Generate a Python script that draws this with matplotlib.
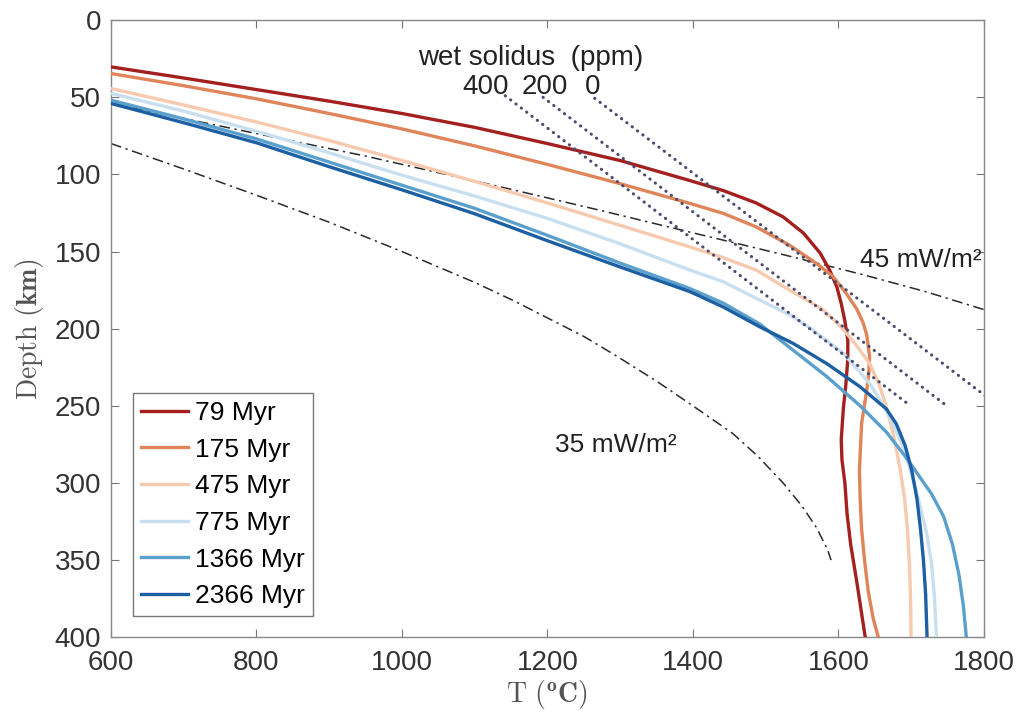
import numpy as np
import matplotlib
matplotlib.use("Agg")
import matplotlib.pyplot as plt

plt.rcParams['font.family'] = ['Liberation Sans', 'DejaVu Sans']
plt.rcParams['mathtext.fontset'] = 'cm'

# geotherms: temperature (C) and depth (km)
labels = ['79 Myr', '175 Myr', '475 Myr', '775 Myr', '1366 Myr', '2366 Myr']
colors = ['#a3201f', '#e0845a', '#f7c9ae', '#c8dff0', '#5aa0cc', '#1d5fa3']

t79 = [600, 700, 800, 900, 1000, 1100, 1200, 1300, 1396, 1442, 1487, 1524,
       1552, 1575, 1588, 1598, 1604, 1609, 1613, 1613, 1610, 1607, 1604, 1605,
       1609, 1612, 1617, 1625, 1637]
d79 = [30.3, 37.5, 45, 52.5, 60.5, 69.5, 80, 91, 104, 110.5, 118.5, 127.5,
       138, 151, 162, 173, 183.7, 195, 207.5, 220, 238, 251, 272, 285,
       300, 320, 340, 363, 400]

t175 = [600, 700, 800, 900, 1000, 1100, 1200, 1300, 1396, 1442, 1487, 1533,
        1570, 1593, 1611, 1625, 1634, 1639, 1643, 1642, 1639, 1632, 1629, 1630,
        1632, 1636, 1641, 1648, 1655]
d175 = [34.6, 42.5, 51, 60.5, 70.5, 81.5, 93.5, 106, 118.8, 125.3, 134, 145.9,
        157.7, 166.4, 177.2, 187, 196, 204, 218, 228, 240, 261.5, 292, 310,
        330, 350, 370, 388, 400]

t475 = [600, 700, 800, 900, 1000, 1100, 1200, 1300, 1396, 1442, 1487, 1533,
        1577, 1600, 1622, 1643, 1656, 1666, 1674, 1680, 1686, 1691, 1695, 1698,
        1699.5, 1700]
d475 = [44.3, 55, 66, 78, 91, 104.5, 118.5, 133, 147, 154, 162, 175,
        187, 197, 209, 222.6, 236, 250.7, 265, 278.8, 294, 310, 330, 355,
        380, 400]

t775 = [600, 700, 800, 900, 1000, 1100, 1200, 1300, 1396, 1442, 1490, 1533,
        1561, 1607, 1643, 1671, 1689, 1698, 1707, 1715, 1722, 1728, 1732, 1735]
d775 = [47.5, 59, 72, 86, 100.5, 114, 128.5, 145, 162, 169.6, 181, 191,
        199.5, 216, 235.5, 257, 276.6, 290, 305, 320, 334, 352, 373, 400]

t1366 = [600, 700, 800, 900, 1000, 1100, 1200, 1300, 1396, 1442, 1492, 1538,
         1584, 1630, 1666, 1694, 1728, 1745, 1757, 1766, 1772, 1776]
d1366 = [51.9, 64, 77, 92, 107, 122, 139.5, 157.5, 174, 183.5, 197, 214,
         231, 250, 267, 284, 307, 322, 340, 360, 380, 400]

t2366 = [600, 700, 800, 900, 1000, 1100, 1200, 1300, 1396, 1442, 1492, 1538,
         1584, 1630, 1666, 1680, 1692, 1701, 1708, 1713, 1717, 1720, 1722]
d2366 = [54, 66.5, 79.5, 95, 110, 125.5, 143, 160, 176, 186, 198.8, 209.6,
         222.6, 237.7, 252, 262, 276, 292, 310, 330, 350, 372, 400]

temps = [t79, t175, t475, t775, t1366, t2366]
depths = [d79, d175, d475, d775, d1366, d2366]

# reference conductive geotherms
t45 = [600, 800, 949, 1135, 1270, 1410, 1520, 1634, 1720, 1800]
d45 = [54, 73.5, 88, 108, 123, 139, 151.5, 165, 176, 187.6]
t35 = [600, 700, 800, 900, 1000, 1100, 1152, 1200, 1250, 1296, 1350, 1400,
       1455, 1490, 1524, 1550, 1570, 1585, 1590]
d35 = [80, 96.5, 113.5, 131, 150, 170, 181.5, 193, 205, 218, 234, 250,
       268, 283, 300, 315, 329, 343, 350]

# wet solidus lines (ppm water)
sol_ppm = ['400', '200', '0']
sol_t = [[1142, 1698], [1194, 1749], [1265, 1820]]
sol_d = [[49, 249.6], [50, 250], [50.6, 250]]
sol_label_t = [1115, 1197, 1262]

fig = plt.figure(figsize=(10.28, 7.2), dpi=100)
ax = fig.add_subplot(111)
fig.subplots_adjust(left=0.108, right=0.957, top=0.972, bottom=0.115)

for t, d, c, lab in zip(temps, depths, colors, labels):
    ax.plot(t, d, color=c, lw=2.4, label=lab, zorder=3,
            solid_joinstyle='round')

ax.plot(t45, d45, color='#2a2a2a', lw=1.1, ls=(0, (7, 3, 1.5, 3)), zorder=2)
ax.plot(t35, d35, color='#2a2a2a', lw=1.1, ls=(0, (7, 3, 1.5, 3)), zorder=2)

for t, d in zip(sol_t, sol_d):
    ax.plot(t, d, color='#4b4b6e', lw=2.2, ls=(0, (0.1, 2.1)),
            dash_capstyle='round', zorder=4)

tc = '#222222'
ax.text(1177, 29, 'wet solidus  (ppm)', fontsize=20, color=tc, ha='center')
for s, tx in zip(sol_ppm, sol_label_t):
    ax.text(tx, 48, s, fontsize=20, color=tc, ha='center')
ax.text(1630, 160, '45 mW/m²', fontsize=19, color=tc)
ax.text(1210, 280, '35 mW/m²', fontsize=19, color=tc)

ax.set_xlim(600, 1800)
ax.set_ylim(400, 0)
ax.set_xticks(np.arange(600, 1801, 200))
ax.set_yticks(np.arange(0, 401, 50))

ax.tick_params(direction='in', top=True, right=True, length=6, width=0.8,
               color='#777777', labelsize=20, labelcolor='#333333')
ax.tick_params(axis='x', pad=9)
ax.tick_params(axis='y', pad=7)
for sp in ax.spines.values():
    sp.set_color('#888888')
    sp.set_linewidth(1)

ax.set_xlabel(r'$\mathrm{T\ (}^{\mathbf{o}}\mathbf{C}\mathrm{)}$', fontsize=20,
              color='#555555', labelpad=2)
ax.set_ylabel(r'$\mathrm{Depth\ (}\mathbf{km}\mathrm{)}$', fontsize=20,
              color='#555555', labelpad=6)

leg = ax.legend(loc='lower left', bbox_to_anchor=(0.025, 0.034),
                borderaxespad=0, fontsize=19, frameon=True, fancybox=False,
                framealpha=1, handlelength=1.8, handletextpad=0.25,
                labelspacing=0.48, borderpad=0.3)
leg.get_frame().set_edgecolor('#777777')
leg.get_frame().set_linewidth(1)

fig.savefig('out.png', dpi=100)
